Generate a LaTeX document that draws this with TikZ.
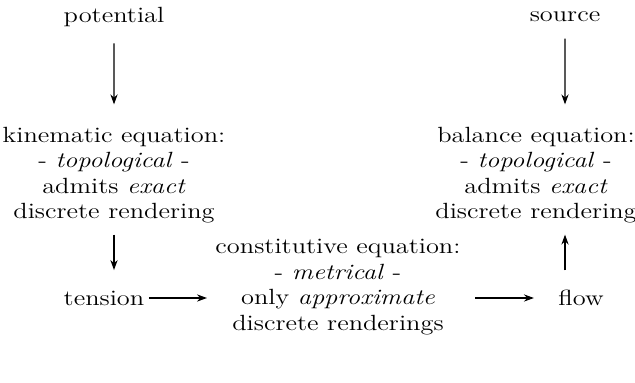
\documentclass[tikz,border=0pt]{standalone}
\usepackage{amsmath}
\usepackage{tikz}
\usetikzlibrary{positioning,arrows.meta,calc}

\begin{document}
\begin{tikzpicture}[x=0.5pt, y=-0.5pt,
  txt/.style={align=center, xscale=1.2, font=\fontsize{11}{12.75}\selectfont},
  arr/.style={-{Stealth[length=5pt,width=3.6pt]}, semithick}
]
\useasboundingbox (0,0) rectangle (635,383);
\node[txt] (pot) at (114,17)  {potential};
\node[txt] (src) at (565,17)  {source};
\node[txt] (kin) at (114,175) {kinematic equation:\\- \textit{topological} -\\admits \textit{exact}\\discrete rendering};
\node[txt] (bal) at (536,175) {balance equation:\\- \textit{topological} -\\admits \textit{exact}\\discrete rendering};
\node[txt] (ten) at (104,298) {tension};
\node[txt] (con) at (338,287) {constitutive equation:\\- \textit{metrical} -\\only \textit{approximate}\\discrete renderings};
\node[txt] (flo) at (581,298) {flow};
\draw[arr, shorten <=4.8pt, shorten >=7.7pt] (pot) -- (kin);
\draw[arr, shorten <=4.8pt, shorten >=7.7pt] (src) -- (src |- bal.north);
\draw[arr, shorten <=2.2pt, shorten >=6.8pt] (kin.south) -- (kin.south |- ten.north);
\draw[arr, shorten <=-2pt] (ten) -- (ten -| con.west);
\draw[arr, shorten <=3pt, shorten >=8pt] (con.east |- flo) -- (flo);
\draw[arr, shorten <=6.4pt, shorten >=2.2pt] (src |- flo.north) -- (src |- bal.south);
\end{tikzpicture}
\end{document}
